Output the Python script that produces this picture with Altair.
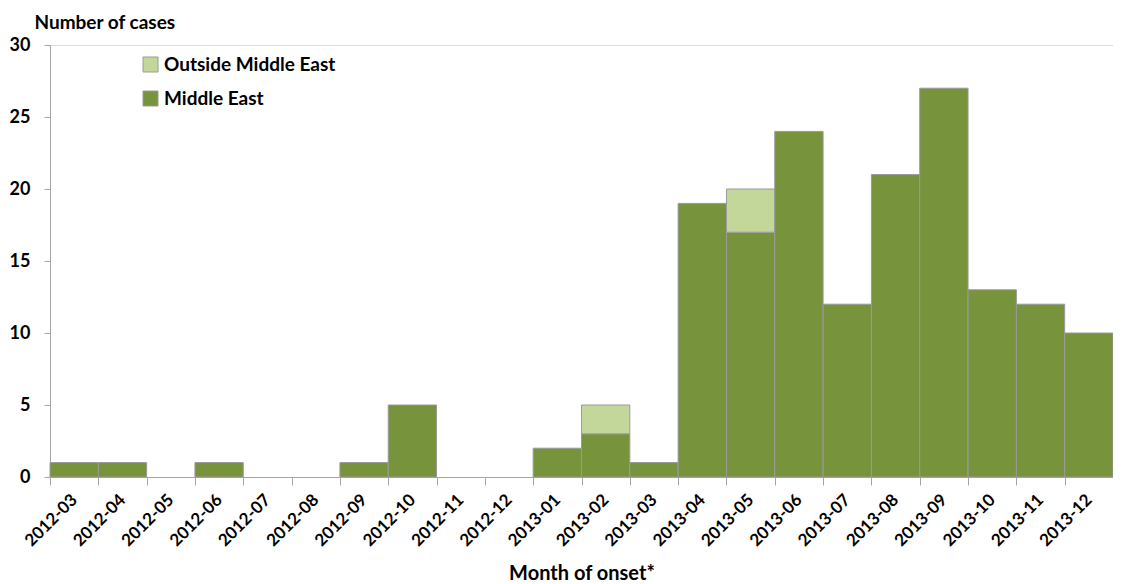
import altair as alt
import pandas as pd

months = ["2012-03", "2012-04", "2012-05", "2012-06", "2012-07", "2012-08",
          "2012-09", "2012-10", "2012-11", "2012-12", "2013-01", "2013-02",
          "2013-03", "2013-04", "2013-05", "2013-06", "2013-07", "2013-08",
          "2013-09", "2013-10", "2013-11", "2013-12"]
middle_east = [1, 1, 0, 1, 0, 0, 1, 5, 0, 0, 2, 3, 1, 19, 17, 24, 12, 21, 27, 13, 12, 10]
outside = [0, 0, 0, 0, 0, 0, 0, 0, 0, 0, 0, 2, 0, 0, 3, 0, 0, 0, 0, 0, 0, 0]

rows = []
for m, me, out in zip(months, middle_east, outside):
    if me > 0:
        rows.append({"month": m, "region": "Middle East", "cases": me, "ord": 0})
    if out > 0:
        rows.append({"month": m, "region": "Outside Middle East", "cases": out, "ord": 1})
df = pd.DataFrame(rows)

FONT = "Lato"

chart = alt.Chart(df).mark_bar(stroke="#9a9a9a", strokeWidth=1).encode(
    x=alt.X("month:O", sort=months,
            scale=alt.Scale(domain=months, paddingInner=0, paddingOuter=0),
            axis=alt.Axis(title="Month of onset*", labelAngle=-45, labelAlign="right",
                          labelBaseline="middle", tickBand="extent", tickSize=8,
                          labelPadding=12, labelFontSize=17, labelFontWeight="bold",
                          labelColor="black", domainColor="#a6a6a6", tickColor="#a6a6a6",
                          titleFontSize=20, titleFontWeight="bold", titleColor="black",
                          titleY=102, titleBaseline="alphabetic")),
    y=alt.Y("cases:Q", stack="zero",
            scale=alt.Scale(domain=[0, 30], nice=False),
            axis=alt.Axis(title="Number of cases", values=[0, 5, 10, 15, 20, 25, 30],
                          grid=False, tickSize=6, labelPadding=14, labelFontSize=18,
                          labelFontWeight="bold", labelColor="black",
                          domainColor="#a6a6a6", tickColor="#a6a6a6",
                          titleAngle=0, titleAlign="left", titleBaseline="alphabetic",
                          titleX=-16, titleY=-17, titleFontSize=19,
                          titleFontWeight="bold", titleColor="black")),
    color=alt.Color("region:N",
                    scale=alt.Scale(domain=["Outside Middle East", "Middle East"],
                                    range=["#c4d79b", "#77933c"]),
                    legend=alt.Legend(title=None, orient="none", legendX=91, legendY=10,
                                      symbolType="square", symbolSize=225,
                                      symbolStrokeColor="#9a9a9a", symbolStrokeWidth=1,
                                      labelFontSize=19, labelFontWeight="bold",
                                      labelColor="black", labelLimit=400,
                                      rowPadding=14, labelOffset=4)),
    order=alt.Order("ord:Q")
).properties(
    width=1063, height=432,
    autosize=alt.AutoSizeParams(type="none"),
    padding={"left": 42, "top": 37, "right": 0, "bottom": 115}
).configure_view(stroke=None).configure(font=FONT)

chart.save("out.html", embed_options={"renderer": "svg", "actions": False})
